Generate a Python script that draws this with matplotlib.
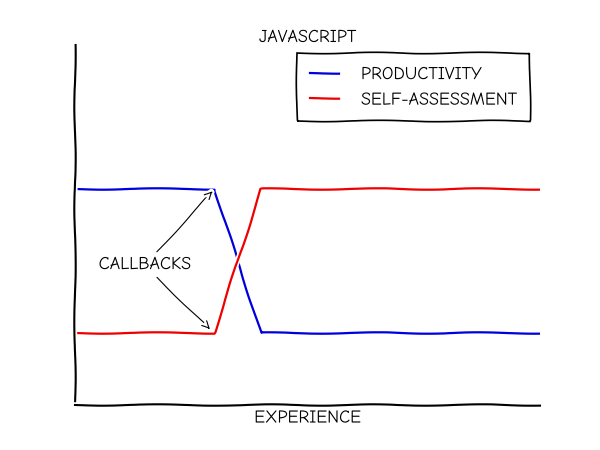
import matplotlib
matplotlib.use("Agg")
import matplotlib.pyplot as plt
import numpy as np

x = [0, 3, 4, 10]
productivity = [0.6, 0.6, 0.2, 0.2]
self_assessment = [0.2, 0.2, 0.6, 0.6]
labels = ["PRODUCTIVITY", "SELF-ASSESSMENT"]
title = "JAVASCRIPT"
xlabel = "EXPERIENCE"
note = "CALLBACKS"

np.random.seed(0)
with plt.xkcd(scale=0.7, length=120, randomness=2):
    plt.rcParams['font.family'] = ['Comic Neue', 'DejaVu Sans']
    plt.rcParams['font.size'] = 13
    fig = plt.figure(figsize=(6, 4.5), dpi=100)
    ax = fig.add_axes([0.125, 0.1, 0.775, 0.8])
    ax.spines['right'].set_visible(False)
    ax.spines['top'].set_visible(False)
    for s in ('left', 'bottom'):
        ax.spines[s].set_linewidth(1.5)
    ax.set_xticks([])
    ax.set_yticks([])
    ax.set_xlim(0, 10)
    ax.set_ylim(0, 1)
    ax.plot(x, productivity, color='#0000dd', lw=1.6, label=labels[0])
    ax.plot(x, self_assessment, color='#ee0000', lw=1.6, label=labels[1])
    ax.text(1.5, 0.39, note, ha='center', va='center', fontsize=13)
    ax.annotate('', xy=(3.0, 0.6), xytext=(1.72, 0.42),
                arrowprops=dict(arrowstyle='->', color='black', lw=0.8))
    ax.annotate('', xy=(2.95, 0.205), xytext=(1.72, 0.36),
                arrowprops=dict(arrowstyle='->', color='black', lw=0.8))
    ax.set_title(title, fontsize=13, pad=1)
    ax.set_xlabel(xlabel, fontsize=13, labelpad=4)
    leg = ax.legend(loc='upper right', bbox_to_anchor=(0.9785, 0.978), borderaxespad=0,
                    fancybox=False, edgecolor='black', framealpha=1, handlelength=1.6,
                    handletextpad=1.2, borderpad=0.75, labelspacing=0.55)
    leg.get_frame().set_linewidth(1.2)
    fig.savefig('out.png', dpi=100)
